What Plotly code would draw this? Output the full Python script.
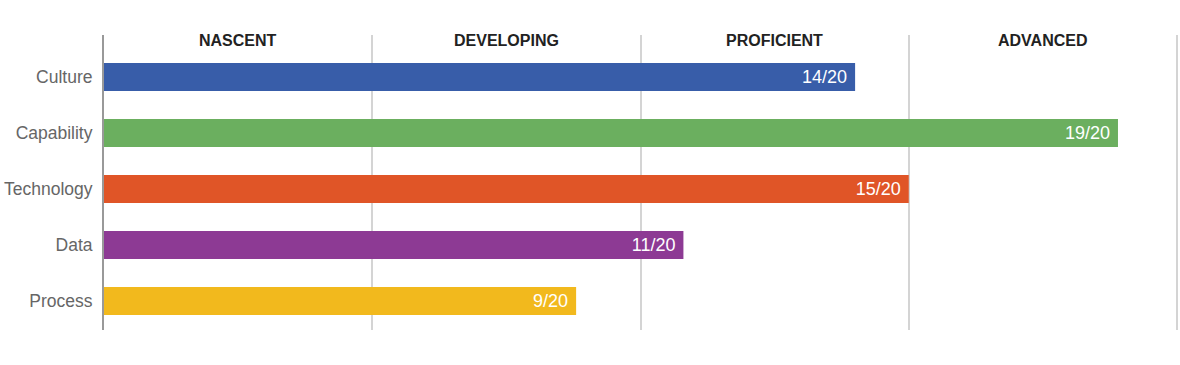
import plotly.graph_objects as go

categories = ["Culture", "Capability", "Technology", "Data", "Process"]
scores = [14.0, 18.9, 15.0, 10.8, 8.8]
score_labels = ["14/20", "19/20", "15/20", "11/20", "9/20"]
bar_colors = ["#385DA9", "#6BAF5F", "#E05527", "#8D3A94", "#F2B91D"]
stage_names = ["NASCENT", "DEVELOPING", "PROFICIENT", "ADVANCED"]
stage_centers = [2.5, 7.5, 12.5, 17.5]
scale_max = 20

FONT = "Liberation Sans, Arial, sans-serif"
GRID = "#d4d4d4"

fig = go.Figure()
fig.add_trace(go.Bar(
    y=categories, x=scores, orientation="h",
    marker=dict(color=bar_colors, line=dict(width=0)),
    width=0.5,
    text=[s + "\u00a0" for s in score_labels],
    textposition="inside", insidetextanchor="end",
    textfont=dict(color="white", size=18, family=FONT),
    hoverinfo="skip",
))

for name, cx in zip(stage_names, stage_centers):
    fig.add_annotation(x=cx, y=-0.66, xref="x", yref="y", text="<b>" + name + "</b>",
                       showarrow=False, font=dict(size=16, color="#222", family=FONT))

# closing gridline at the scale maximum (plotly omits grid lines at the plot edge)
fig.add_vline(x=scale_max, line=dict(color=GRID, width=1.5), layer="below")

fig.update_layout(
    width=1180, height=365,
    margin=dict(l=104, r=0, t=35, b=35, autoexpand=False),
    plot_bgcolor="white", paper_bgcolor="white",
    showlegend=False,
    xaxis=dict(range=[0, scale_max * 1076 / 1073], dtick=5, tick0=0, showgrid=True, gridcolor=GRID,
               gridwidth=1.5, showticklabels=False, zeroline=False, showline=False, automargin=False),
    yaxis=dict(range=[4.52, -0.75], categoryorder="array", categoryarray=categories,
               showgrid=False, showline=True, linecolor="#999", linewidth=2,
               ticklabelstandoff=6, automargin=False,
               tickfont=dict(size=17.5, color="#666", family=FONT)),
)

fig.write_html("out.html",
               config={"displayModeBar": False},
               post_script="document.body.style.margin='0';document.body.style.overflow='hidden';")
